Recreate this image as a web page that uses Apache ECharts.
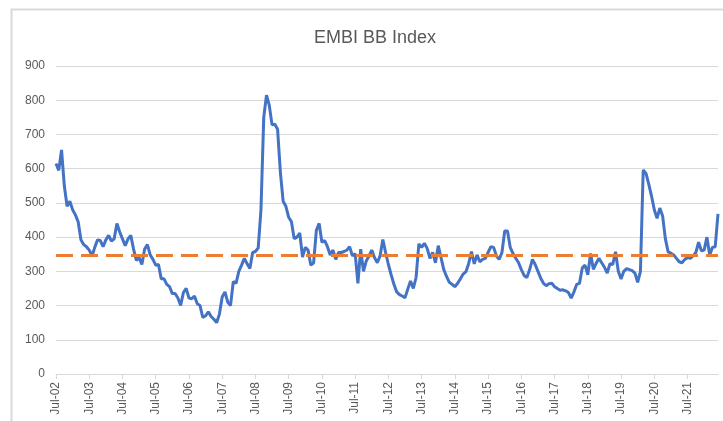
<!DOCTYPE html>
<html>
<head>
<meta charset="utf-8">
<script src="https://cdn.jsdelivr.net/npm/echarts@6/dist/echarts.min.js"></script>
<style>
  html, body { margin: 0; padding: 0; background: #fff; }
  #main { width: 723px; height: 421px; }
</style>
</head>
<body>
<div id="main"></div>
<script>
// monthly EMBI BB spread, Jul-02 .. Jun-22
var embiValues = [
  615, 595, 655, 550, 490, 505, 480, 465, 445, 392, 378, 372,
  362, 345, 370, 392, 390, 372, 392, 405, 388, 395, 440, 415,
  395, 375, 395, 405, 365, 332, 340, 320, 365, 378, 348, 335,
  318, 320, 278, 278, 262, 255, 235, 235, 222, 200, 238, 250,
  222, 220, 228, 205, 200, 165, 170, 182, 168, 160, 150, 175,
  225, 240, 210, 200, 270, 265, 300, 318, 338, 322, 308, 355,
  358, 368, 480, 750, 815, 785, 728, 730, 715, 590, 505, 490,
  458, 445, 395, 400, 412, 342, 370, 362, 318, 325, 420, 440,
  385, 390, 372, 348, 362, 335, 355, 355, 358, 362, 372, 345,
  352, 265, 365, 300, 330, 345, 362, 340, 325, 345, 393, 355,
  320, 290, 262, 240, 232, 228, 223, 248, 272, 250, 282, 380,
  370, 382, 367, 338, 355, 325, 375, 340, 305, 285, 268, 262,
  255, 265, 278, 292, 299, 323, 358, 322, 348, 328, 335, 338,
  355, 372, 370, 345, 335, 355, 418, 418, 370, 352, 338, 325,
  305, 288, 282, 305, 335, 320, 300, 280, 265, 258, 264, 265,
  255, 250, 245, 246, 243, 238, 222, 240, 262, 265, 310, 318,
  290, 352, 306, 323, 338, 325, 312, 295, 322, 320, 357, 300,
  278, 300, 308, 305, 302, 295, 268, 300, 596, 586, 555, 520,
  480, 455, 485, 462, 395, 357, 353, 348, 338, 328, 325, 335,
  340, 338, 345, 355, 385, 360, 362, 400, 348, 370, 372, 468
];
var averageLevel = 347;
var yTicks = [0, 100, 200, 300, 400, 500, 600, 700, 800, 900];
var monthNames = ['Jan', 'Feb', 'Mar', 'Apr', 'May', 'Jun', 'Jul', 'Aug', 'Sep', 'Oct', 'Nov', 'Dec'];

var categories = [];
for (var i = 0; i < embiValues.length; i++) {
  var m = (6 + i) % 12;
  var yr = 2 + Math.floor((6 + i) / 12);
  categories.push(monthNames[m] + '-' + (yr < 10 ? '0' + yr : '' + yr));
}

var chart = echarts.init(document.getElementById('main'));
var textColor = '#595959';
var fontFam = '"Liberation Sans", Arial, sans-serif';

chart.setOption({
  animation: false,
  backgroundColor: '#fff',
  title: {
    text: 'EMBI BB Index',
    left: 370, top: 24, textAlign: 'center',
    textStyle: { color: textColor, fontSize: 18, fontWeight: 'normal', fontFamily: fontFam }
  },
  graphic: [{
    type: 'rect',
    shape: { x: 11.5, y: 9.5, width: 760, height: 460 },
    style: { fill: null, stroke: '#d9d9d9', lineWidth: 2 },
    silent: true
  }],
  grid: { left: 56, right: 5, top: 66, bottom: 47 },
  xAxis: {
    type: 'category',
    data: categories,
    boundaryGap: false,
    axisLine: { lineStyle: { color: '#d9d9d9', width: 1 } },
    axisTick: {
      show: true, length: 5,
      interval: function (idx) { return idx % 12 === 0; },
      lineStyle: { color: '#d9d9d9' }
    },
    axisLabel: {
      rotate: 90, margin: 8,
      interval: function (idx) { return idx % 12 === 0; },
      color: textColor, fontSize: 12, fontFamily: fontFam
    },
    splitLine: { show: false }
  },
  yAxis: {
    type: 'value',
    min: yTicks[0], max: yTicks[yTicks.length - 1], interval: 100,
    axisLine: { show: false },
    axisTick: { show: false },
    axisLabel: { color: textColor, fontSize: 12, fontFamily: fontFam, margin: 11 },
    splitLine: { lineStyle: { color: '#d9d9d9', width: 1 } }
  },
  series: [{
    name: 'EMBI BB',
    type: 'line',
    data: embiValues,
    showSymbol: false,
    lineStyle: { color: '#4472c4', width: 3 },
    itemStyle: { color: '#4472c4' },
    markLine: {
      silent: true,
      symbol: ['none', 'none'],
      label: { show: false },
      lineStyle: { color: '#ed7d31', width: 3, type: [17, 8] },
      data: [{ yAxis: averageLevel }]
    },
    z: 2
  }]
});
</script>
</body>
</html>
